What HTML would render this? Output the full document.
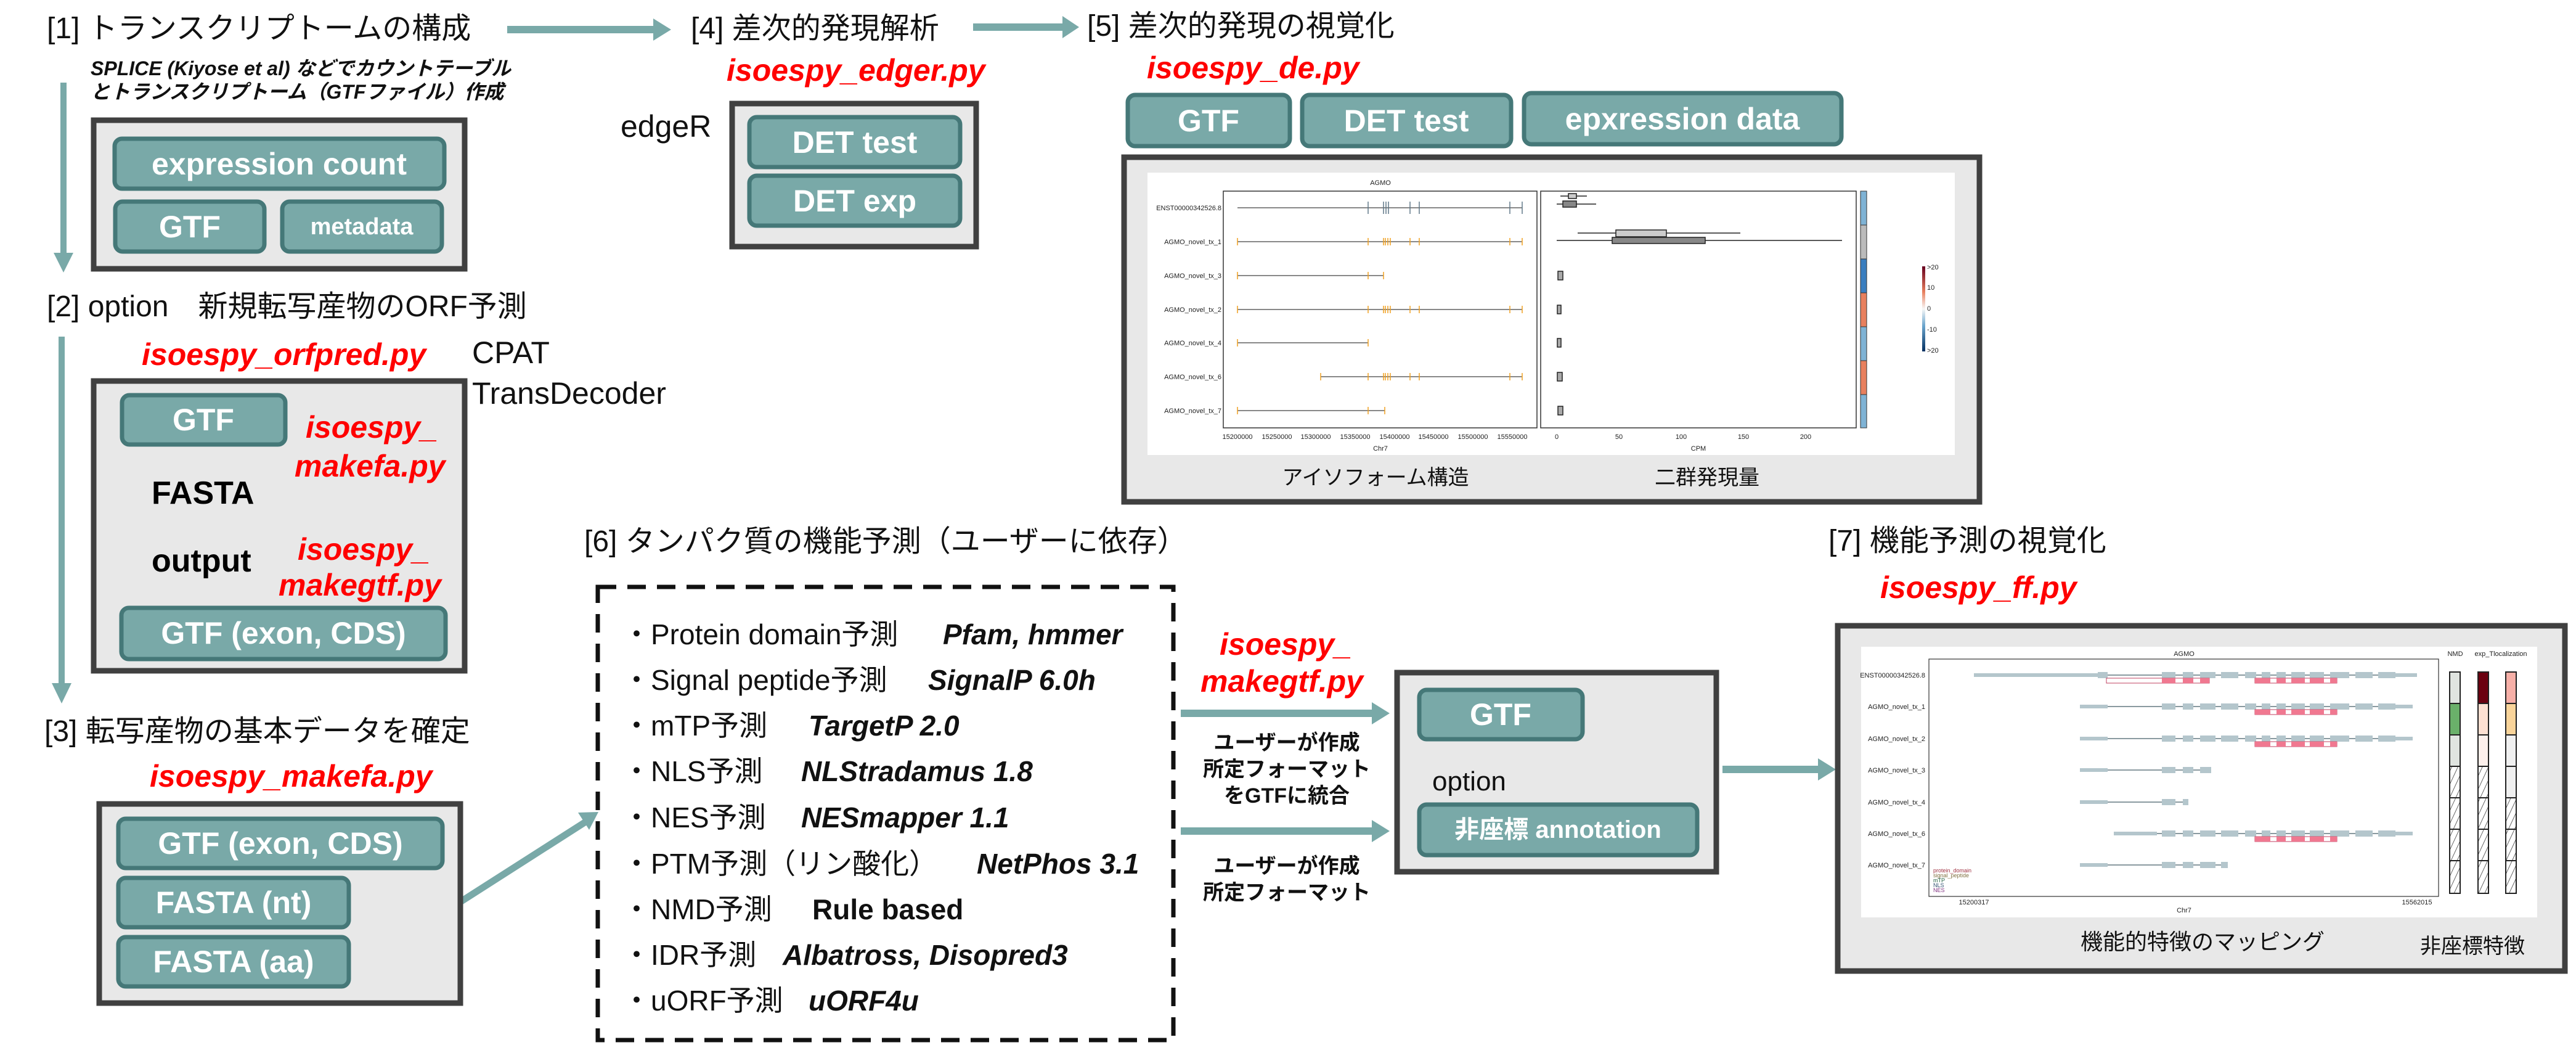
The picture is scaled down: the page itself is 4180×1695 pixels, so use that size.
<!DOCTYPE html>
<html><head><meta charset="utf-8"><style>
html,body{margin:0;padding:0;background:#fff;}
svg{display:block;font-family:"Liberation Sans","Noto Sans CJK JP",sans-serif;}
.t{font-size:48px;fill:#111;}
.r{font-size:50px;fill:#ff0000;font-weight:bold;font-style:italic;}
.b{fill:#79a9a8;stroke:#457878;stroke-width:7;}
.bt{fill:#fff;font-weight:bold;text-anchor:middle;dominant-baseline:central;}
.gb{fill:#e8e8e8;stroke:#404040;stroke-width:9;}
.li{font-size:46px;fill:#111;dominant-baseline:central;}
.lt{font-size:46px;fill:#111;font-weight:bold;font-style:italic;dominant-baseline:central;}
.u{font-size:34px;fill:#111;font-weight:bold;text-anchor:middle;dominant-baseline:central;}
.s{font-size:11px;fill:#222;}
</style></head><body>
<svg width="4180" height="1695" viewBox="0 0 4180 1695" xmlns="http://www.w3.org/2000/svg">
<defs>
<pattern id="h" width="9" height="9" patternUnits="userSpaceOnUse" patternTransform="rotate(25)"><rect width="9" height="9" fill="#fff"/><line x1="0" y1="0" x2="0" y2="9" stroke="#333" stroke-width="1.5"/></pattern>
<linearGradient id="cb" x1="0" y1="0" x2="0" y2="1"><stop offset="0" stop-color="#67001f"/><stop offset="0.3" stop-color="#e8805e"/><stop offset="0.5" stop-color="#f7f7f7"/><stop offset="0.7" stop-color="#6aa5cd"/><stop offset="1" stop-color="#053061"/></linearGradient>
<g id="ex" fill="#b4c6cc">
<rect x="3508" y="-5" width="22" height="10"/><rect x="3542" y="-5" width="17" height="10"/><rect x="3570" y="-5" width="25" height="10"/><rect x="3604" y="-5" width="28" height="10"/><rect x="3643" y="-5" width="18" height="10"/><rect x="3670" y="-5" width="14" height="10"/><rect x="3694" y="-5" width="15" height="10"/><rect x="3718" y="-5" width="22" height="10"/><rect x="3748" y="-5" width="23" height="10"/><rect x="3781" y="-5" width="31" height="10"/><rect x="3822" y="-5" width="28" height="10"/><rect x="3859" y="-5" width="28" height="10"/>
</g>
<g id="d2"><rect x="3659" y="5" width="133" height="8" fill="#fff" stroke="#c04060" stroke-width="1"/><g fill="#f07890"><rect x="3659" y="5" width="11" height="8"/><rect x="3670" y="5" width="14" height="8"/><rect x="3694" y="5" width="15" height="8"/><rect x="3718" y="5" width="22" height="8"/><rect x="3748" y="5" width="23" height="8"/><rect x="3781" y="5" width="11" height="8"/></g></g>
<g id="tk" stroke="#f0a020" stroke-width="1.5"><line x1="2220" y1="-6" x2="2220" y2="6"/><line x1="2245" y1="-6" x2="2245" y2="6"/><line x1="2248" y1="-6" x2="2248" y2="6"/><line x1="2252" y1="-6" x2="2252" y2="6"/><line x1="2256" y1="-6" x2="2256" y2="6"/><line x1="2288" y1="-6" x2="2288" y2="6"/><line x1="2303" y1="-6" x2="2303" y2="6"/><line x1="2450" y1="-6" x2="2450" y2="6"/><line x1="2470" y1="-6" x2="2470" y2="6"/></g>
</defs>

<!-- titles -->
<text class="t" x="76" y="62">[1] トランスクリプトームの構成</text>
<text class="t" x="1121" y="62">[4] 差次的発現解析</text>
<text class="t" x="1764" y="58">[5] 差次的発現の視覚化</text>
<text class="t" x="76" y="513">[2] option　新規転写産物のORF予測</text>
<text class="t" x="72" y="1202">[3] 転写産物の基本データを確定</text>
<text class="t" x="948" y="894">[6] タンパク質の機能予測（ユーザーに依存）</text>
<text class="t" x="2967" y="893">[7] 機能予測の視覚化</text>

<!-- arrows -->
<g fill="#79a9a8" stroke="none">
<rect x="823" y="42" width="240" height="12"/><polygon points="1060,30 1089,48 1060,66"/>
<rect x="1579" y="38" width="148" height="12"/><polygon points="1724,26 1751,44 1724,62"/>
<rect x="98" y="134" width="10" height="280"/><polygon points="87,410 103,442 119,410"/>
<rect x="95" y="546" width="10" height="566"/><polygon points="84,1108 100,1141 116,1108"/>
<rect x="1916" y="1151" width="312" height="12"/><polygon points="2226,1139 2255,1157 2226,1175"/>
<rect x="1916" y="1342" width="312" height="12"/><polygon points="2226,1330 2255,1348 2226,1366"/>
<rect x="2795" y="1242" width="158" height="12"/><polygon points="2950,1230 2979,1248 2950,1266"/>
<rect x="328" y="721" width="4" height="24"/><polygon points="321,743 330,760 339,743"/>
<rect x="328" y="946" width="4" height="26"/><polygon points="321,970 330,987 339,970"/>
<rect x="328" y="879" width="4" height="0"/>
</g>
<line x1="595" y1="1560" x2="955" y2="1330" stroke="#79a9a8" stroke-width="11"/>
<polygon points="971,1317 938,1318 956,1346" fill="#79a9a8"/>
<rect x="328" y="850" width="4" height="10" fill="#79a9a8"/><polygon points="321,860 330,879 339,860" fill="#79a9a8"/>

<!-- [1] -->
<text x="147" y="122" font-size="32" font-weight="bold" font-style="italic" fill="#111">SPLICE (Kiyose et al) などでカウントテーブル</text>
<text x="147" y="160" font-size="32" font-weight="bold" font-style="italic" fill="#111">とトランスクリプトーム（GTFファイル）作成</text>
<rect class="gb" x="152" y="195" width="602" height="241"/>
<rect class="b" x="186" y="225" width="535" height="81" rx="12"/><text class="bt" x="453" y="266" font-size="50">expression count</text>
<rect class="b" x="187" y="327" width="242" height="81" rx="12"/><text class="bt" x="308" y="368" font-size="50">GTF</text>
<rect class="b" x="458" y="327" width="259" height="81" rx="12"/><text class="bt" x="587" y="368" font-size="38">metadata</text>

<!-- [4] -->
<text class="r" x="1179" y="131">isoespy_edger.py</text>
<text x="1007" y="222" font-size="50" fill="#111">edgeR</text>
<rect class="gb" x="1188" y="168" width="396" height="232"/>
<rect class="b" x="1216" y="190" width="342" height="81" rx="12"/><text class="bt" x="1387" y="231" font-size="50">DET test</text>
<rect class="b" x="1216" y="285" width="342" height="81" rx="12"/><text class="bt" x="1387" y="326" font-size="50">DET exp</text>

<!-- [2] -->
<text class="r" x="230" y="592">isoespy_orfpred.py</text>
<text x="766" y="589" font-size="50" fill="#111">CPAT</text>
<text x="766" y="655" font-size="50" fill="#111">TransDecoder</text>
<rect class="gb" x="152" y="618" width="602" height="470"/>
<rect class="b" x="198" y="641" width="265" height="80" rx="12"/><text class="bt" x="330" y="681" font-size="50">GTF</text>
<text class="r" x="496" y="710">isoespy_</text>
<text class="r" x="478" y="773">makefa.py</text>
<text x="246" y="817" font-size="52" font-weight="bold" fill="#000">FASTA</text>
<text x="246" y="927" font-size="52" font-weight="bold" fill="#000">output</text>
<text class="r" x="483" y="908">isoespy_</text>
<text class="r" x="452" y="966">makegtf.py</text>
<rect class="b" x="197" y="986" width="526" height="83" rx="12"/><text class="bt" x="460" y="1027" font-size="50">GTF (exon, CDS)</text>

<!-- [3] -->
<text class="r" x="243" y="1276">isoespy_makefa.py</text>
<rect class="gb" x="161" y="1304" width="586" height="323"/>
<rect class="b" x="192" y="1328" width="526" height="80" rx="12"/><text class="bt" x="455" y="1368" font-size="50">GTF (exon, CDS)</text>
<rect class="b" x="192" y="1424" width="374" height="80" rx="12"/><text class="bt" x="379" y="1464" font-size="50">FASTA (nt)</text>
<rect class="b" x="192" y="1520" width="374" height="80" rx="12"/><text class="bt" x="379" y="1560" font-size="50">FASTA (aa)</text>

<!-- [6] -->
<rect x="970" y="952" width="934" height="735" fill="none" stroke="#111" stroke-width="7" stroke-dasharray="30 18"/>
<g>
<text class="li" x="1010" y="1029">・Protein domain予測</text><text class="lt" x="1530" y="1029">Pfam, hmmer</text>
<text class="li" x="1010" y="1103">・Signal peptide予測</text><text class="lt" x="1506" y="1103">SignalP 6.0h</text>
<text class="li" x="1010" y="1177">・mTP予測</text><text class="lt" x="1312" y="1177">TargetP 2.0</text>
<text class="li" x="1010" y="1251">・NLS予測</text><text class="lt" x="1300" y="1251">NLStradamus 1.8</text>
<text class="li" x="1010" y="1326">・NES予測</text><text class="lt" x="1300" y="1326">NESmapper 1.1</text>
<text class="li" x="1010" y="1401">・PTM予測（リン酸化）</text><text class="lt" x="1585" y="1401">NetPhos 3.1</text>
<text class="li" x="1010" y="1475">・NMD予測</text><text class="li" x="1318" y="1475" font-weight="bold">Rule based</text>
<text class="li" x="1010" y="1549">・IDR予測</text><text class="lt" x="1270" y="1549">Albatross, Disopred3</text>
<text class="li" x="1010" y="1623">・uORF予測</text><text class="lt" x="1312" y="1623">uORF4u</text>
</g>
<text class="r" x="1979" y="1062">isoespy_</text>
<text class="r" x="1948" y="1122">makegtf.py</text>
<text class="u" x="2088" y="1205">ユーザーが作成</text>
<text class="u" x="2088" y="1248">所定フォーマット</text>
<text class="u" x="2088" y="1291">をGTFに統合</text>
<text class="u" x="2088" y="1405">ユーザーが作成</text>
<text class="u" x="2088" y="1448">所定フォーマット</text>
<rect class="gb" x="2267" y="1091" width="518" height="323"/>
<rect class="b" x="2303" y="1119" width="265" height="80" rx="12"/><text class="bt" x="2435" y="1159" font-size="50">GTF</text>
<text x="2324" y="1282" font-size="44" fill="#111">option</text>
<rect class="b" x="2303" y="1305" width="451" height="82" rx="12"/><text class="bt" x="2528" y="1346" font-size="40">非座標 annotation</text>

<!-- [5] -->
<text class="r" x="1861" y="127">isoespy_de.py</text>
<rect class="b" x="1830" y="154" width="263" height="83" rx="12"/><text class="bt" x="1961" y="196" font-size="50">GTF</text>
<rect class="b" x="2113" y="154" width="339" height="83" rx="12"/><text class="bt" x="2282" y="196" font-size="50">DET test</text>
<rect class="b" x="2473" y="151" width="515" height="83" rx="12"/><text class="bt" x="2730" y="193" font-size="50">epxression data</text>
<rect class="gb" x="1824" y="255" width="1388" height="559"/>
<rect x="1862" y="280" width="1310" height="458" fill="#fff"/>
<text class="s" x="2240" y="300" text-anchor="middle">AGMO</text>
<rect x="1985" y="310" width="509" height="384" fill="none" stroke="#333" stroke-width="1.5"/>
<rect x="2500" y="310" width="512" height="384" fill="none" stroke="#333" stroke-width="1.5"/>
<g stroke="#888" stroke-width="2">
<line x1="2008" y1="337" x2="2470" y2="337"/><line x1="2008" y1="392" x2="2470" y2="392"/><line x1="2008" y1="447" x2="2245" y2="447"/><line x1="2008" y1="502" x2="2470" y2="502"/><line x1="2008" y1="556" x2="2220" y2="556"/><line x1="2143" y1="611" x2="2470" y2="611"/><line x1="2008" y1="666" x2="2247" y2="666"/>
</g>
<g stroke="#607888" stroke-width="1.5"><line x1="2220" y1="327" x2="2220" y2="347"/><line x1="2245" y1="327" x2="2245" y2="347"/><line x1="2249" y1="327" x2="2249" y2="347"/><line x1="2253" y1="327" x2="2253" y2="347"/><line x1="2288" y1="327" x2="2288" y2="347"/><line x1="2303" y1="327" x2="2303" y2="347"/><line x1="2450" y1="327" x2="2450" y2="347"/><line x1="2470" y1="327" x2="2470" y2="347"/></g>
<use href="#tk" y="392"/><use href="#tk" y="502"/><use href="#tk" y="611"/>
<g stroke="#f0a020" stroke-width="1.5"><line x1="2220" y1="441" x2="2220" y2="453"/><line x1="2245" y1="441" x2="2245" y2="453"/><line x1="2220" y1="550" x2="2220" y2="562"/><line x1="2220" y1="660" x2="2220" y2="672"/><line x1="2247" y1="660" x2="2247" y2="672"/><line x1="2008" y1="386" x2="2008" y2="398"/><line x1="2008" y1="441" x2="2008" y2="453"/><line x1="2008" y1="496" x2="2008" y2="508"/><line x1="2008" y1="550" x2="2008" y2="562"/><line x1="2143" y1="605" x2="2143" y2="617"/><line x1="2008" y1="660" x2="2008" y2="672"/></g>
<g class="s" text-anchor="end" font-size="10">
<text x="1982" y="341">ENST00000342526.8</text><text x="1982" y="396">AGMO_novel_tx_1</text><text x="1982" y="451">AGMO_novel_tx_3</text><text x="1982" y="506">AGMO_novel_tx_2</text><text x="1982" y="560">AGMO_novel_tx_4</text><text x="1982" y="615">AGMO_novel_tx_6</text><text x="1982" y="670">AGMO_novel_tx_7</text>
</g>
<g class="s" text-anchor="middle" font-size="10">
<text x="2008" y="712">15200000</text><text x="2072" y="712">15250000</text><text x="2135" y="712">15300000</text><text x="2199" y="712">15350000</text><text x="2263" y="712">15400000</text><text x="2326" y="712">15450000</text><text x="2390" y="712">15500000</text><text x="2454" y="712">15550000</text>
<text x="2240" y="731">Chr7</text>
<text x="2526" y="712">0</text><text x="2627" y="712">50</text><text x="2728" y="712">100</text><text x="2829" y="712">150</text><text x="2930" y="712">200</text>
<text x="2756" y="731">CPM</text>
</g>
<g stroke="#222" stroke-width="1.5">
<line x1="2532" y1="318" x2="2575" y2="318"/><rect x="2545" y="314" width="13" height="8" fill="#ccc"/>
<line x1="2526" y1="331" x2="2590" y2="331"/><rect x="2536" y="326" width="22" height="10" fill="#888"/>
<line x1="2560" y1="378" x2="2824" y2="378"/><rect x="2622" y="373" width="82" height="11" fill="#ccc"/>
<line x1="2526" y1="390" x2="2989" y2="390"/><rect x="2616" y="385" width="151" height="10" fill="#888"/>
<rect x="2528" y="440" width="8" height="14" fill="#aaa"/><rect x="2527" y="495" width="6" height="14" fill="#aaa"/><rect x="2527" y="549" width="6" height="14" fill="#aaa"/><rect x="2527" y="604" width="8" height="14" fill="#aaa"/><rect x="2528" y="659" width="8" height="14" fill="#aaa"/>
</g>
<rect x="3019" y="310" width="10" height="55" fill="#7fb3d5" stroke="#333"/><rect x="3019" y="365" width="10" height="55" fill="#bbb" stroke="#333"/><rect x="3019" y="420" width="10" height="55" fill="#3a7ebf" stroke="#333"/><rect x="3019" y="475" width="10" height="55" fill="#e8805e" stroke="#333"/><rect x="3019" y="530" width="10" height="55" fill="#7fb3d5" stroke="#333"/><rect x="3019" y="585" width="10" height="55" fill="#e8805e" stroke="#333"/><rect x="3019" y="640" width="10" height="54" fill="#7fb3d5" stroke="#333"/>
<rect x="3119" y="432" width="5" height="138" fill="url(#cb)"/>
<g class="s" font-size="9"><text x="3127" y="437">&gt;20</text><text x="3127" y="470">10</text><text x="3127" y="504">0</text><text x="3127" y="538">-10</text><text x="3127" y="572">&gt;20</text></g>
<text x="2232" y="786" font-size="34" fill="#111" text-anchor="middle">アイソフォーム構造</text>
<text x="2770" y="786" font-size="34" fill="#111" text-anchor="middle">二群発現量</text>

<!-- [7] -->
<text class="r" x="3051" y="970" font-size="54">isoespy_ff.py</text>
<rect class="gb" x="2982" y="1015" width="1180" height="560"/>
<rect x="3020" y="1049" width="1097" height="439" fill="#fff"/>
<text class="s" x="3544" y="1064" text-anchor="middle">AGMO</text>
<rect x="3130" y="1069" width="827" height="385" fill="none" stroke="#333" stroke-width="1.2"/>
<g class="s" text-anchor="end" font-size="10">
<text x="3124" y="1099">ENST00000342526.8</text><text x="3124" y="1150">AGMO_novel_tx_1</text><text x="3124" y="1202">AGMO_novel_tx_2</text><text x="3124" y="1253">AGMO_novel_tx_3</text><text x="3124" y="1305">AGMO_novel_tx_4</text><text x="3124" y="1356">AGMO_novel_tx_6</text><text x="3124" y="1407">AGMO_novel_tx_7</text>
</g>
<g stroke="#8a9aa0" stroke-width="2">
<line x1="3203" y1="1095" x2="3922" y2="1095"/><line x1="3375" y1="1146" x2="3915" y2="1146"/><line x1="3375" y1="1198" x2="3915" y2="1198"/><line x1="3375" y1="1249" x2="3588" y2="1249"/><line x1="3375" y1="1301" x2="3551" y2="1301"/><line x1="3430" y1="1352" x2="3915" y2="1352"/><line x1="3375" y1="1403" x2="3615" y2="1403"/>
</g>
<g fill="#b4c6cc">
<rect x="3203" y="1092" width="201" height="6"/><rect x="3404" y="1090" width="16" height="10"/><rect x="3887" y="1092" width="35" height="6"/>
<rect x="3375" y="1143" width="45" height="6"/><rect x="3887" y="1143" width="28" height="6"/>
<rect x="3375" y="1195" width="45" height="6"/><rect x="3887" y="1195" width="28" height="6"/>
<rect x="3375" y="1246" width="45" height="6"/><rect x="3508" y="1244" width="22" height="10"/><rect x="3542" y="1244" width="17" height="10"/><rect x="3570" y="1244" width="18" height="10"/>
<rect x="3375" y="1298" width="45" height="6"/><rect x="3508" y="1296" width="22" height="10"/><rect x="3542" y="1296" width="9" height="10"/>
<rect x="3430" y="1349" width="70" height="6"/><rect x="3887" y="1349" width="28" height="6"/>
<rect x="3375" y="1400" width="45" height="6"/><rect x="3508" y="1398" width="22" height="10"/><rect x="3542" y="1398" width="17" height="10"/><rect x="3570" y="1398" width="25" height="10"/><rect x="3604" y="1398" width="11" height="10"/>
</g>
<use href="#ex" y="1095"/><use href="#ex" y="1146"/><use href="#ex" y="1198"/><use href="#ex" y="1352"/>
<rect x="3418" y="1100" width="167" height="8" fill="#fff" stroke="#c04060" stroke-width="1"/>
<g fill="#f07890"><rect x="3508" y="1100" width="22" height="8"/><rect x="3542" y="1100" width="17" height="8"/><rect x="3570" y="1100" width="15" height="8"/></g>
<use href="#d2" y="1095"/><use href="#d2" y="1146"/><use href="#d2" y="1198"/><use href="#d2" y="1352"/>
<g font-size="9"><text x="3137" y="1415" fill="#a03040">protein_domain</text><text x="3137" y="1423" fill="#807040">signal_peptide</text><text x="3137" y="1431" fill="#206040">mTP</text><text x="3137" y="1439" fill="#305070">NLS</text><text x="3137" y="1447" fill="#803080">NES</text></g>
<g class="s" text-anchor="middle" font-size="10"><text x="3203" y="1467">15200317</text><text x="3922" y="1467">15562015</text><text x="3544" y="1480">Chr7</text>
<text x="3984" y="1064">NMD</text><text x="4058" y="1064">exp_Tlocalization</text></g>
<g stroke="#222" stroke-width="2">
<rect x="3975" y="1090" width="17" height="51" fill="#e0e4e0"/><rect x="3975" y="1141" width="17" height="51" fill="#6ab06a"/><rect x="3975" y="1192" width="17" height="51" fill="#e0e4e0"/><rect x="3975" y="1243" width="17" height="51" fill="url(#h)"/><rect x="3975" y="1294" width="17" height="51" fill="url(#h)"/><rect x="3975" y="1345" width="17" height="51" fill="url(#h)"/><rect x="3975" y="1396" width="17" height="53" fill="url(#h)"/>
<rect x="4021" y="1090" width="17" height="51" fill="#6b0010"/><rect x="4021" y="1141" width="17" height="51" fill="#fde0d2"/><rect x="4021" y="1192" width="17" height="51" fill="#fdf0ec"/><rect x="4021" y="1243" width="17" height="51" fill="url(#h)"/><rect x="4021" y="1294" width="17" height="51" fill="url(#h)"/><rect x="4021" y="1345" width="17" height="51" fill="url(#h)"/><rect x="4021" y="1396" width="17" height="53" fill="url(#h)"/>
<rect x="4066" y="1090" width="17" height="51" fill="#f7b0a8"/><rect x="4066" y="1141" width="17" height="51" fill="#f9d49a"/><rect x="4066" y="1192" width="17" height="51" fill="#f0f0f0"/><rect x="4066" y="1243" width="17" height="51" fill="#f0f0f0"/><rect x="4066" y="1294" width="17" height="51" fill="url(#h)"/><rect x="4066" y="1345" width="17" height="51" fill="url(#h)"/><rect x="4066" y="1396" width="17" height="53" fill="url(#h)"/>
</g>
<text x="3574" y="1540" font-size="36" fill="#111" text-anchor="middle">機能的特徴のマッピング</text>
<text x="4012" y="1546" font-size="34" fill="#111" text-anchor="middle">非座標特徴</text>
</svg>
</body></html>
